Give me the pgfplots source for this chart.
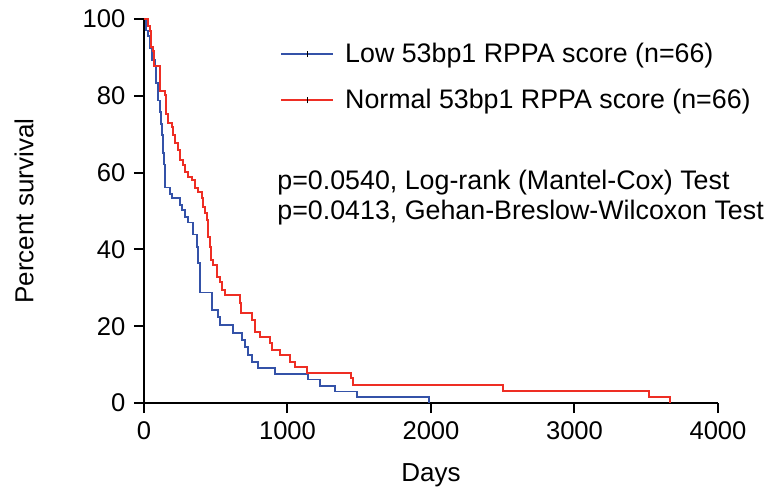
\documentclass[border=0pt]{standalone}
\usepackage{pgfplots}
\pgfplotsset{compat=1.18}
\usepackage{fontspec}
\setmainfont{Liberation Sans}
\definecolor{lowblue}{RGB}{52,82,168}
\definecolor{normred}{RGB}{238,46,36}

\begin{document}
\begin{tikzpicture}
\fontsize{12.5}{15}\selectfont
\begin{axis}[
    scale only axis,
    width=287pt, height=192pt,
    xmin=0, xmax=4000, ymin=0, ymax=100,
    axis x line*=bottom, axis y line*=left,
    axis line style={line width=1pt, -},
    xtick={0,1000,2000,3000,4000},
    ytick={0,20,40,60,80,100},
    tick align=outside,
    major tick length=5pt,
    tick style={line width=1pt, black},
    /pgf/number format/assume math mode=true,
    /pgf/number format/set thousands separator={},
    ticklabel style={font=\fontsize{12.8}{15}\selectfont},
    xlabel={Days}, ylabel={Percent survival},
    xlabel style={at={(axis description cs:0.5,-0.1875)}, anchor=center},
    ylabel style={at={(axis description cs:-0.209,0.5)}, anchor=center},
    label style={font=\fontsize{13}{15}\selectfont},
    clip=false,
    legend style={at={(axis cs:948,95)}, anchor=north west, draw=none, fill=none,
        inner sep=0pt, row sep=7.5pt, font=\fontsize{13.4}{16}\selectfont},
    legend cell align=left,
    legend image code/.code={
        \draw[#1] (0pt,0pt) -- (26pt,0pt);
        \draw[black, line width=0.5pt] (13pt,-1.5pt) -- (13pt,1.5pt);
        \path (29.5pt,0pt);
    },
]
\addplot[const plot, lowblue, line width=0.9pt] coordinates {
(0,100) (14,97) (28,95.5) (42,92.4) (56,89.4) (77,87.9) (84,83.3) (98,78.8)
(112,75.8) (118,72.7) (125,69.7) (132,65.2) (139,62.1) (146,56.1) (181,54.5)
(195,53.4) (251,51.5) (265,50.3) (286,48.5) (307,47) (341,43.9) (369,40.6)
(376,36.4) (390,28.8) (474,24.2) (516,22.4) (530,20.3) (620,18.2) (683,16.4)
(704,14.6) (725,12.5) (753,10.7) (793,9.1) (913,7.6) (1143,6.1) (1227,4.5)
(1331,3.0) (1484,1.5) (1986,0)
};
\addlegendentry{Low 53bp1 RPPA score (n=66)}
\addplot[const plot, normred, line width=0.9pt] coordinates {
(0,100) (28,98.2) (42,96.9) (50,92.7) (63,91.7) (70,87.8) (112,81.3) (146,80.2)
(153,75.3) (167,72.9) (195,71.9) (202,69.8) (216,67.7) (237,65.9) (251,63.3)
(272,62) (286,60.2) (307,58.9) (335,58.1) (355,56) (376,54.9) (404,53.4)
(411,51) (425,49.5) (439,47.7) (446,43.2) (460,40.6) (467,37.2) (481,35.9)
(509,32.8) (530,31.5) (544,29.4) (564,28.1) (669,26) (676,23.4) (753,21.6)
(774,18.5) (808,17.2) (878,15.6) (892,13.8) (948,12.5) (1017,10.7) (1052,9.4)
(1136,7.8) (1443,6.5) (1456,4.7) (2502,3.1) (3519,1.6) (3666,0)
};
\addlegendentry{Normal 53bp1 RPPA score (n=66)}
\node[anchor=west, inner sep=0pt, font=\fontsize{13.4}{16}\selectfont] at (axis cs:927,57.3) {p=0.0540, Log-rank (Mantel-Cox) Test};
\node[anchor=west, inner sep=0pt, font=\fontsize{13.4}{16}\selectfont] at (axis cs:927,49.5) {p=0.0413, Gehan-Breslow-Wilcoxon Test};
\coordinate (o) at (rel axis cs:0,0);
\end{axis}
\pgfresetboundingbox
\path (o) ++(-72pt,-43pt) rectangle ++(383.5pt,244.5pt);
\end{tikzpicture}
\end{document}
